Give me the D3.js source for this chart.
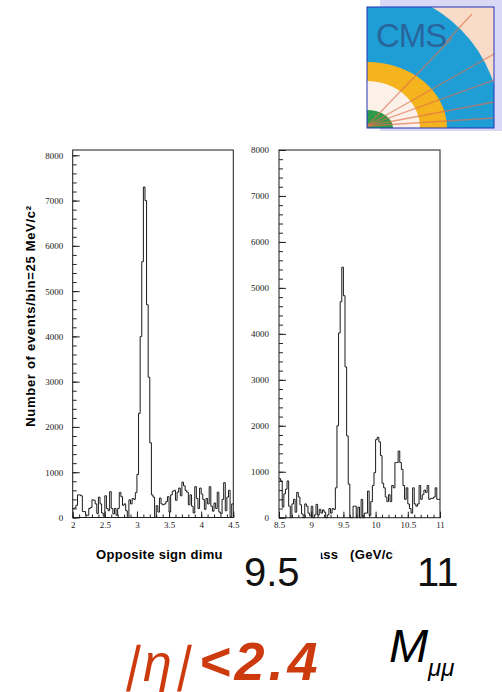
<!DOCTYPE html>
<html>
<head>
<meta charset="utf-8">
<script src="https://cdn.jsdelivr.net/npm/d3@7"></script>
<style>
  html, body { margin: 0; padding: 0; background: #fff; }
  svg { display: block; }
  .tick text { font-family: "Liberation Serif", "Times New Roman", serif; font-size: 9px; fill: #222; }
  .tick line { stroke: #222; stroke-width: 1; }
</style>
</head>
<body>
<svg id="chart" width="502" height="692"></svg>
<script>
// Dimuon invariant-mass spectra, 25 MeV/c^2 bins
const jpsiRange = [2, 4.5];
const upsilonRange = [8.5, 11];
const binWidth = 0.025;

// J/psi region, 2.0 - 4.5 GeV/c^2 (100 bins)
const jpsiCounts = [
  200, 210, 270, 500, 500, 480, 130, 130, 50, 50,
  200, 220, 390, 380, 300, 90, 450, 300, 100, 30,
  480, 200, 150, 570, 200, 80, 200, 50, 200, 555,
  460, 270, 300, 150, 0, 390, 300, 420, 400, 550,
  950, 2300, 4000, 5650, 7300, 7000, 4700, 3100, 1650, 500,
  450, 0, 260, 120, 430, 300, 280, 300, 350, 460,
  120, 500, 580, 600, 380, 560, 650, 480, 780, 700,
  600, 560, 280, 500, 250, 100, 680, 420, 200, 650,
  520, 400, 180, 420, 300, 680, 250, 140, 320, 200,
  560, 120, 80, 400, 770, 150, 450, 600, 20, 300
];

// Upsilon region, 8.5 - 11.0 GeV/c^2 (100 bins)
const upsilonCounts = [
  850, 800, 230, 520, 620, 800, 250, 0, 300, 400,
  120, 550, 450, 280, 80, 0, 300, 250, 100, 40,
  250, 0, 60, 290, 60, 180, 100, 170, 120, 0,
  60, 200, 100, 200, 180, 650, 2000, 4020, 4700, 5450,
  4830, 3280, 1780, 730, 0, 0, 250, 250, 0, 230,
  0, 400, 0, 100, 100, 580, 50, 350, 700, 980,
  1700, 1750, 1650, 1350, 750, 650, 450, 350, 500, 350,
  700, 650, 1200, 1200, 1450, 1200, 1050, 700, 400, 650,
  300, 200, 100, 650, 300, 250, 300, 700, 400, 500,
  600, 550, 700, 400, 420, 420, 450, 650, 400, 400
];

const yMajorTicks = [0, 1000, 2000, 3000, 4000, 5000, 6000, 7000, 8000];
const jpsiTickLabels = [2, 2.5, 3, 3.5, 4, 4.5];
const upsilonTickLabels = [8.5, 9, 9.5, 10, 10.5, 11];

const yTitle = "Number of events/bin=25 MeV/c\u00B2";
const xTitle = "Opposite sign dimuon invariant mass   (GeV/c\u00B2)";
const massMarkers = ["9.5", "11"];

const svg = d3.select("#chart");
svg.append("rect").attr("width", 502).attr("height", 692).attr("fill", "#fff");

function drawPanel(cfg) {
  const { counts, range, xLabels, px, py, yMax, pad } = cfg;
  const x = d3.scaleLinear().domain(range).range(px);
  const y = d3.scaleLinear().domain([0, yMax]).range(py);
  const g = svg.append("g");

  // minor ticks
  g.append("g").attr("transform", `translate(${px[0]},0)`)
    .call(d3.axisLeft(y).tickValues(d3.range(0, 8001, 200)).tickSizeInner(-4).tickSizeOuter(0).tickFormat(""))
    .call(a => a.select(".domain").remove());
  g.append("g").attr("transform", `translate(0,${py[0]})`)
    .call(d3.axisBottom(x).tickValues(d3.range(range[0], range[1] + 1e-9, 0.1)).tickSizeInner(-3).tickSizeOuter(0).tickFormat(""))
    .call(a => a.select(".domain").remove());

  // major ticks with labels
  g.append("g").attr("transform", `translate(${px[0]},0)`)
    .call(d3.axisLeft(y).tickValues(yMajorTicks).tickSizeInner(-7).tickSizeOuter(0).tickPadding(pad).tickFormat(d3.format("d")))
    .call(a => a.select(".domain").remove());
  g.append("g").attr("transform", `translate(0,${py[0]})`)
    .call(d3.axisBottom(x).tickValues(xLabels).tickSizeInner(-6).tickSizeOuter(0).tickPadding(4).tickFormat(d => String(d)))
    .call(a => a.select(".domain").remove());

  // step histogram
  let d = `M${x(range[0])},${y(counts[0])}`;
  counts.forEach((c, i) => {
    const x0 = range[0] + i * binWidth;
    if (i > 0) d += `V${y(c)}`;
    d += `H${x(x0 + binWidth)}`;
  });
  g.append("path").attr("d", d).attr("fill", "none").attr("stroke", "#1a1a1a").attr("stroke-width", 1);

  // frame
  g.append("rect")
    .attr("x", px[0]).attr("y", py[1])
    .attr("width", px[1] - px[0]).attr("height", py[0] - py[1])
    .attr("fill", "none").attr("stroke", "#1a1a1a").attr("stroke-width", 1);
}

drawPanel({ counts: jpsiCounts, range: jpsiRange, xLabels: jpsiTickLabels,
  px: [72.7, 233.3], py: [517.5, 150], yMax: 8117, pad: 9.5 });
drawPanel({ counts: upsilonCounts, range: upsilonRange, xLabels: upsilonTickLabels,
  px: [279, 440], py: [517.7, 150], yMax: 8000, pad: 10 });

const sans = "Liberation Sans, Arial, sans-serif";

// axis titles
svg.append("text")
  .attr("transform", "translate(35,316) rotate(-90)")
  .attr("text-anchor", "middle")
  .attr("font-family", sans)
  .attr("font-weight", "bold").attr("font-size", 13)
  .attr("letter-spacing", 0.7)
  .text(yTitle);

const xt = svg.append("text")
  .attr("x", 96).attr("y", 559)
  .attr("font-family", sans)
  .attr("font-weight", "bold").attr("font-size", 13)
  .attr("letter-spacing", 0.3)
  .style("white-space", "pre")
  .text(xTitle);

// large mass markers laid over the title on white patches
const node = xt.node();
const iDimu = xTitle.indexOf("dimu") + 4;
const iA = xTitle.indexOf("mass") + 1;
const iC = xTitle.indexOf("c\u00B2");
const m1x0 = node.getStartPositionOfChar(iDimu).x;
const m1x1 = node.getEndPositionOfChar(iA).x - 2.5;
const m2x0 = node.getEndPositionOfChar(iC).x + 0.2;
svg.append("rect").attr("x", m1x0).attr("y", 538).attr("width", m1x1 - m1x0).attr("height", 60).attr("fill", "#fff");
svg.append("rect").attr("x", m2x0).attr("y", 538).attr("width", 502 - m2x0).attr("height", 60).attr("fill", "#fff");
svg.append("text").attr("x", 244).attr("y", 586).attr("font-family", sans).attr("font-size", 40).attr("fill", "#111").text(massMarkers[0]);
svg.append("text").attr("x", 417).attr("y", 586).attr("font-family", sans).attr("font-size", 40).attr("fill", "#111").text(massMarkers[1]);

// pseudorapidity cut
const red = "#cc3a0e";
const bar = (bx) => svg.append("text")
  .attr("transform", `translate(${bx},681) skewX(-13)`)
  .attr("font-family", sans).attr("font-size", 50).attr("fill", red).text("|");
bar(124);
svg.append("text").attr("x", 143).attr("y", 681).attr("font-family", sans).attr("font-style", "italic")
  .attr("font-size", 52).attr("fill", red).text("\u03B7");
bar(175);
svg.append("text").attr("x", 199).attr("y", 680).attr("font-family", sans).attr("font-style", "italic").attr("font-weight", "bold")
  .attr("font-size", 54).attr("letter-spacing", 4).attr("fill", red).text("<2.4");

// M_mumu
svg.append("text").attr("x", 389).attr("y", 662).attr("font-family", sans).attr("font-style", "italic")
  .attr("font-size", 47).attr("fill", "#000").text("M");
svg.append("text").attr("x", 428).attr("y", 676).attr("font-family", sans).attr("font-style", "italic")
  .attr("font-size", 24).attr("fill", "#000").text("\u03BC\u03BC");

// experiment logo
const logo = svg.append("g");
logo.append("rect").attr("x", 380).attr("y", 0).attr("width", 122).attr("height", 131).attr("fill", "#d9d9f7");
const defs = svg.append("defs");
defs.append("clipPath").attr("id", "logoClip").append("rect")
  .attr("x", 367).attr("y", 7).attr("width", 127).attr("height", 121);
const lg = logo.append("g").attr("clip-path", "url(#logoClip)");
lg.append("rect").attr("x", 367).attr("y", 7).attr("width", 127).attr("height", 121).attr("fill", "#f8dcc8");
lg.append("ellipse").attr("cx", 367).attr("cy", 128).attr("rx", 134).attr("ry", 138).attr("fill", "#1f9ed6");
lg.append("ellipse").attr("cx", 367).attr("cy", 128).attr("rx", 80).attr("ry", 66).attr("fill", "#f5b31e");
lg.append("ellipse").attr("cx", 367).attr("cy", 128).attr("rx", 53).attr("ry", 47).attr("fill", "#fbf1e8");
lg.append("ellipse").attr("cx", 367).attr("cy", 128).attr("rx", 26).attr("ry", 18).attr("fill", "#2f9a4a");
lg.append("text").attr("x", 376).attr("y", 47).attr("font-family", sans).attr("font-size", 33)
  .attr("letter-spacing", -1).attr("fill", "#2c5890").attr("opacity", 0.8).text("CMS");
[[452, 38], [494, 54], [494, 80], [494, 102], [494, 118]].forEach(([ex, ey]) => {
  lg.append("line").attr("x1", 367).attr("y1", 126).attr("x2", ex).attr("y2", ey)
    .attr("stroke", "#e0704c").attr("stroke-width", 1.3).attr("opacity", 0.65);
});
lg.append("line").attr("x1", 446).attr("y1", 42).attr("x2", 472).attr("y2", 14)
  .attr("stroke", "#e0704c").attr("stroke-width", 1.3).attr("opacity", 0.65);
logo.append("rect").attr("x", 367).attr("y", 7).attr("width", 127).attr("height", 121)
  .attr("fill", "none").attr("stroke", "#2233bb").attr("stroke-width", 1);
</script>
</body>
</html>
